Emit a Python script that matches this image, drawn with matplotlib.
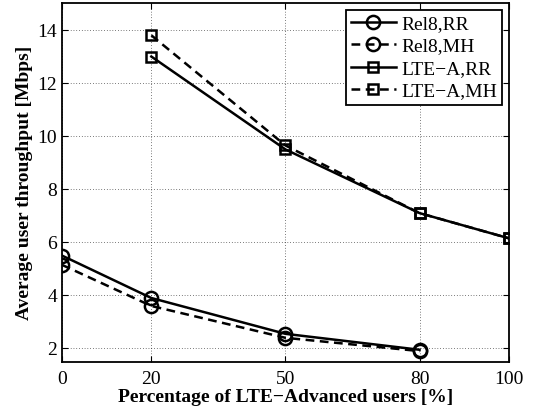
import matplotlib
matplotlib.use("Agg")
import matplotlib.pyplot as plt

x_rel8 = [0, 20, 50, 80]
rel8_rr = [5.5, 3.9, 2.55, 1.95]
rel8_mh = [5.15, 3.6, 2.4, 1.9]
x_ltea = [20, 50, 80, 100]
ltea_rr = [13.0, 9.5, 7.1, 6.15]
ltea_mh = [13.8, 9.65, 7.1, 6.15]
xticks = [0, 20, 50, 80, 100]
yticks = [2, 4, 6, 8, 10, 12, 14]
labels = ["Rel8,RR", "Rel8,MH", "LTE\u2212A,RR", "LTE\u2212A,MH"]

plt.rcParams['font.family'] = ['Liberation Serif', 'DejaVu Serif']
plt.rcParams['mathtext.fontset'] = 'stix'

fig = plt.figure(figsize=(5.34, 4.08), dpi=100)
ax = fig.add_axes([0.116, 0.1135, 0.837, 0.878])

common = dict(color='black', lw=1.8, mfc='none', mec='black', mew=1.8)
dash = (3.5, 2.2)
ax.plot(x_rel8, rel8_rr, '-', marker='o', ms=9.5, label=labels[0], **common)
ax.plot(x_rel8, rel8_mh, '--', marker='o', ms=9.5, label=labels[1], dashes=dash, **common)
ax.plot(x_ltea, ltea_rr, '-', marker='s', ms=7, label=labels[2], **common)
ax.plot(x_ltea, ltea_mh, '--', marker='s', ms=7, label=labels[3], dashes=dash, **common)

ax.set_xlim(0, 100)
ax.set_ylim(1.5, 15)
ax.set_xticks(xticks)
ax.set_yticks(yticks)
ax.tick_params(direction='in', top=True, right=True, labelsize=14, length=4, width=0.8)
ax.tick_params(axis='x', pad=6.5)
ax.tick_params(axis='y', pad=3.5)
ax.grid(True, color='black', linestyle=(0, (1, 3)), linewidth=0.5)
for s in ax.spines.values():
    s.set_linewidth(1.3)

ax.set_xlabel("Percentage of LTE\u2212Advanced users [%]", fontsize=14, fontweight='bold', labelpad=1)
ax.set_ylabel("Average user throughput [Mbps]", fontsize=14, fontweight='bold', labelpad=3)

leg = ax.legend(loc='upper right', fontsize=14, frameon=True, fancybox=False,
                borderaxespad=0.35, handlelength=2.3, handletextpad=0.3,
                labelspacing=0.25, borderpad=0.25)
leg.get_frame().set_edgecolor('black')
leg.get_frame().set_linewidth(1.3)
leg.get_frame().set_alpha(1)

fig.savefig("out.png", dpi=100)
